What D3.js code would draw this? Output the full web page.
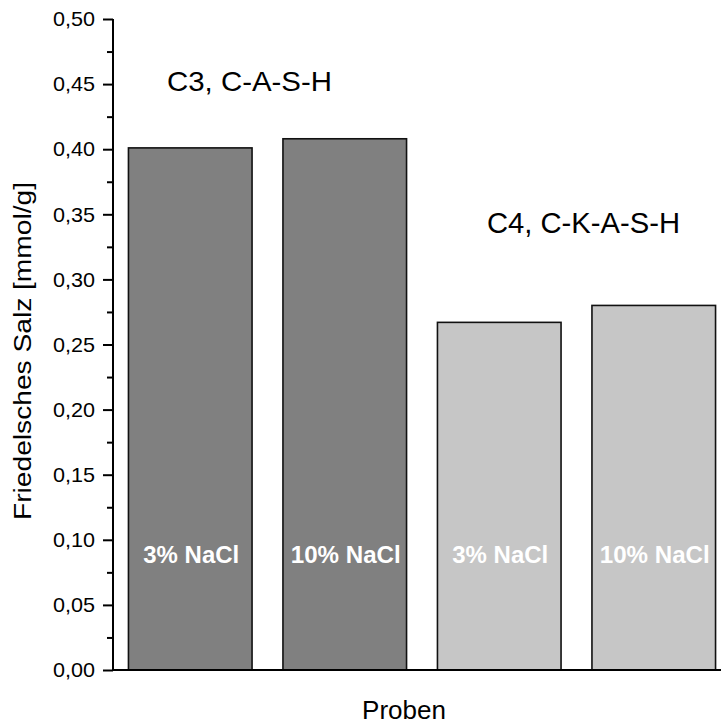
<!DOCTYPE html>
<html><head><meta charset="utf-8">
<script src="https://cdn.jsdelivr.net/npm/d3@7"></script>
<style>body{margin:0;background:#fff}svg{display:block;font-family:"Liberation Sans",Arial,sans-serif}</style>
</head><body>
<script>
const categories = ["C3 3%", "C3 10%", "C4 3%", "C4 10%"];
const values = [0.401, 0.408, 0.267, 0.280];
const barLabels = ["3% NaCl", "10% NaCl", "3% NaCl", "10% NaCl"];
const barColors = ["#808080", "#808080", "#c6c6c6", "#c6c6c6"];
const yTicks = [0, 0.05, 0.10, 0.15, 0.20, 0.25, 0.30, 0.35, 0.40, 0.45, 0.50];
const yMinorTicks = [0.025, 0.075, 0.125, 0.175, 0.225, 0.275, 0.325, 0.375, 0.425, 0.475];
const groupLabels = ["C3, C-A-S-H", "C4, C-K-A-S-H"];

const W = 721, H = 726;
const svg = d3.select("body").append("svg").attr("width", W).attr("height", H);

const x = d3.scaleBand().domain(categories).range([113, 731]).paddingInner(0.2).paddingOuter(0.1);
const y = d3.scaleLinear().domain([0, 0.5]).range([670, 19]);

// bars
svg.selectAll("rect.bar").data(values).join("rect")
  .attr("x", (d, i) => x(categories[i]))
  .attr("y", d => y(d))
  .attr("width", x.bandwidth())
  .attr("height", d => y(0) - y(d))
  .attr("fill", (d, i) => barColors[i])
  .attr("stroke", "#111").attr("stroke-width", 1.6);

// bar labels
svg.selectAll("text.bl").data(barLabels).join("text")
  .attr("x", (d, i) => x(categories[i]) + x.bandwidth() / 2 + 1)
  .attr("y", 563)
  .attr("text-anchor", "middle")
  .attr("fill", "#fff").attr("font-weight", "bold").attr("font-size", 23)
  .attr("textLength", d => d.length === 7 ? 96 : 110)
  .attr("lengthAdjust", "spacingAndGlyphs")
  .text(d => d);

// y axis
const yAxis = d3.axisLeft(y).tickValues(yTicks).tickSize(10).tickPadding(8)
  .tickFormat(d => d3.format(".2f")(d).replace(".", ","));
const ga = svg.append("g").attr("transform", "translate(113,0)").call(yAxis);
ga.select(".domain").attr("stroke", "#000").attr("stroke-width", 2).attr("d", "M0,670V19");
ga.selectAll(".tick line").attr("stroke", "#000").attr("stroke-width", 2);
ga.selectAll(".tick text").attr("font-size", 21).attr("fill", "#000")
  .attr("font-family", "'Liberation Sans',Arial,sans-serif")
  .attr("textLength", 42).attr("lengthAdjust", "spacingAndGlyphs");
const gm = svg.append("g").attr("transform", "translate(113,0)").call(d3.axisLeft(y).tickValues(yMinorTicks).tickSize(6).tickFormat(""));
gm.select(".domain").remove();
gm.selectAll(".tick line").attr("stroke", "#000").attr("stroke-width", 2);

// x axis line
svg.append("g").attr("transform", "translate(0,670)")
  .call(d3.axisBottom(x).tickSize(0).tickFormat(""))
  .select(".domain").attr("stroke", "#000").attr("stroke-width", 2).attr("d", "M112,0H721");

// group labels
svg.append("text").attr("x", 167).attr("y", 91).attr("font-size", 28)
  .attr("textLength", 165).attr("lengthAdjust", "spacingAndGlyphs").text(groupLabels[0]);
svg.append("text").attr("x", 487).attr("y", 233).attr("font-size", 29)
  .attr("textLength", 193).attr("lengthAdjust", "spacingAndGlyphs").text(groupLabels[1]);

// axis titles
svg.append("text").attr("x", 404).attr("y", 719).attr("text-anchor", "middle").attr("font-size", 26).text("Proben");
svg.append("text").attr("transform", "translate(31,351) rotate(-90)").attr("text-anchor", "middle")
  .attr("font-size", 23).attr("textLength", 338).attr("lengthAdjust", "spacingAndGlyphs")
  .text("Friedelsches Salz [mmol/g]");
</script>
</body></html>
